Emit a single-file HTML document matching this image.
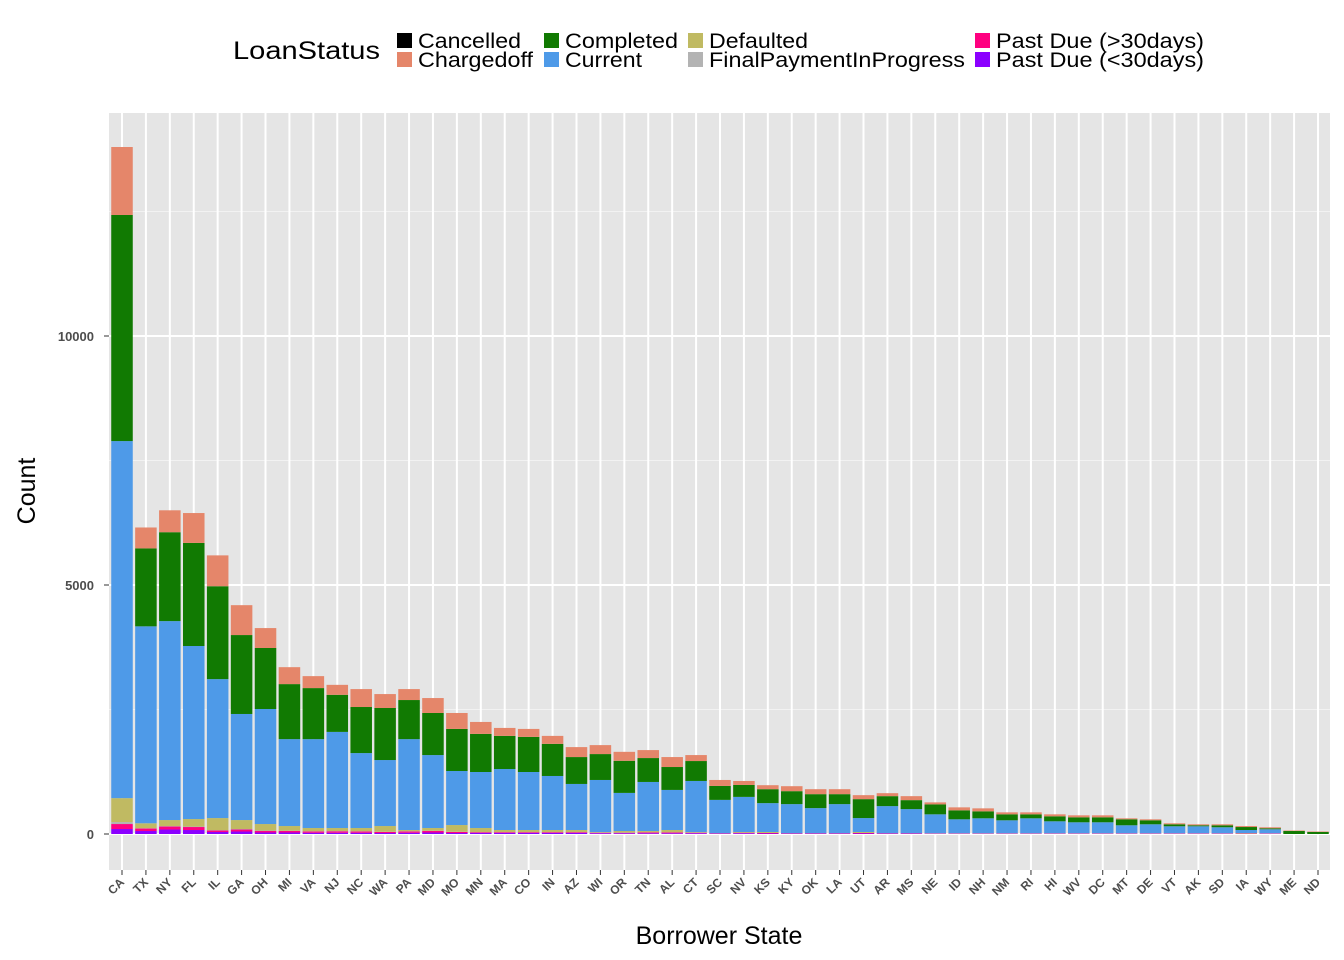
<!DOCTYPE html>
<html><head><meta charset="utf-8"><style>
body{margin:0;background:#fff;font-family:"Liberation Sans",Arial,sans-serif}
svg{display:block}
</style></head><body>
<svg id="chart" width="1344" height="960" xmlns="http://www.w3.org/2000/svg" font-family="Liberation Sans, Arial, sans-serif"></svg>
<script>
const states=["CA","TX","NY","FL","IL","GA","OH","MI","VA","NJ","NC","WA","PA","MD","MO","MN","MA","CO","IN","AZ","WI","OR","TN","AL","CT","SC","NV","KS","KY","OK","LA","UT","AR","MS","NE","ID","NH","NM","RI","HI","WV","DC","MT","DE","VT","AK","SD","IA","WY","ME","ND"];
const pastDueLt30=[100,60,90,80,40,50,30,30,25,25,25,20,25,30,20,20,20,20,20,20,15,15,15,15,15,10,15,10,10,10,10,10,10,10,5,5,5,5,5,5,5,5,5,5,5,5,5,5,5,0,0];
const pastDueGt30=[100,50,60,60,30,40,30,30,25,30,25,20,25,30,20,15,15,15,15,15,10,10,15,15,10,5,10,10,5,5,5,10,5,5,5,5,5,5,5,5,5,5,5,5,5,5,5,5,5,0,0];
const finalPayment=[40,5,10,10,10,10,10,5,5,5,5,5,5,5,5,5,5,5,5,5,5,5,5,5,5,0,0,0,0,0,0,0,0,0,0,0,0,0,0,0,0,0,0,0,0,0,0,0,0,0,0];
const defaulted=[480,100,120,150,240,180,130,95,65,60,65,115,25,55,135,80,40,40,40,40,10,30,25,45,10,5,15,20,5,5,5,20,5,5,5,5,5,5,5,5,5,5,5,5,5,5,5,10,5,0,0];
const current=[7170,3955,3995,3475,2790,2130,2310,1745,1785,1930,1505,1325,1825,1465,1085,1125,1225,1165,1085,925,1045,765,985,805,1025,665,705,580,580,500,580,280,540,480,380,280,300,260,300,240,220,220,160,180,140,140,120,60,80,0,0];
const completed=[4540,1565,1785,2070,1865,1585,1225,1105,1025,745,925,1045,785,845,845,765,665,705,645,540,520,645,480,460,400,280,240,280,260,280,200,380,200,180,200,180,140,120,80,100,100,100,120,80,40,20,40,60,20,60,40];
const chargedoff=[1365,420,440,600,620,600,400,340,240,200,360,280,220,300,320,240,160,160,160,200,180,180,160,200,120,120,80,80,100,100,100,80,60,80,40,60,60,40,40,40,40,40,20,20,20,20,20,20,20,10,10];
const cancelled=new Array(51).fill(0);
const yTicks=[0,5000,10000];
const series=[
 {n:"past-due-lt30",v:pastDueLt30,c:"#8B00FF"},
 {n:"past-due-gt30",v:pastDueGt30,c:"#FF0080"},
 {n:"final-payment",v:finalPayment,c:"#B3B3B3"},
 {n:"defaulted",v:defaulted,c:"#C0BA62"},
 {n:"current",v:current,c:"#4E9AE8"},
 {n:"completed",v:completed,c:"#117A02"},
 {n:"chargedoff",v:chargedoff,c:"#E5866A"},
 {n:"cancelled",v:cancelled,c:"#000000"}];
const NS="http://www.w3.org/2000/svg";
const svg=document.getElementById('chart');
const L=109,R=1330,T=113,B=870;
const y0=834,pxPer=249/5000;
const Y=v=>y0-v*pxPer;
const step=(1318-122)/50;
const X=i=>122+i*step;
function mk(tag,attrs,parent){const e=document.createElementNS(NS,tag);for(const k in attrs)e.setAttribute(k,attrs[k]);(parent||svg).appendChild(e);return e;}
const bg=mk('rect',{x:L,y:T,width:R-L,height:B-T,fill:"#E5E5E5"});


[2500,7500,12500].forEach(v=>{const g=mk('line',{x1:L,x2:R,y1:Y(v),y2:Y(v),stroke:"#F2F2F2","stroke-width":1});

});
yTicks.forEach(v=>{const g=mk('line',{x1:L,x2:R,y1:Y(v),y2:Y(v),stroke:"#fff","stroke-width":2});


mk('line',{x1:L-5,x2:L,y1:Y(v),y2:Y(v),stroke:"#333","stroke-width":1});
const t=mk('text',{x:L-15,y:Y(v)+5,"text-anchor":"end","font-size":13,"font-weight":"bold",fill:"#4D4D4D"});t.textContent=v;

});
states.forEach((s,i)=>{const g=mk('line',{x1:X(i),x2:X(i),y1:T,y2:B,stroke:"#fff","stroke-width":2});

});
const bw=step*0.9;
states.forEach((s,i)=>{let cum=0;series.forEach(se=>{const v=se.v[i];if(v>0){const r=mk('rect',{x:X(i)-bw/2,y:Y(cum+v),width:bw,height:v*pxPer,fill:se.c});

}cum+=v;});
mk('line',{x1:X(i),x2:X(i),y1:B,y2:B+5,stroke:"#333","stroke-width":1});
const ax=X(i)+3,ay=B+13;
const t=mk('text',{x:ax,y:ay,"text-anchor":"end","font-size":12,"font-weight":"bold",fill:"#4D4D4D",transform:`rotate(-45 ${ax} ${ay})`});t.textContent=s;

});
const xt=mk('text',{x:719,y:944,"text-anchor":"middle","font-size":25});xt.textContent="Borrower State";


const yt=mk('text',{x:35,y:491,"text-anchor":"middle","font-size":25,transform:"rotate(-90 35 491)"});yt.textContent="Count";


const lt=mk('text',{x:233,y:59,"font-size":25,textLength:147,lengthAdjust:"spacingAndGlyphs"});lt.textContent="LoanStatus";


const leg=[["Cancelled","#000000",397,33,103],["Chargedoff","#E5866A",397,52,115],["Completed","#117A02",544,33,113],["Current","#4E9AE8",544,52,77],["Defaulted","#C0BA62",688,33,99],["FinalPaymentInProgress","#B3B3B3",688,52,256],["Past Due (>30days)","#FF0080",975,33,208],["Past Due (<30days)","#8B00FF",975,52,208]];
leg.forEach(l=>{const k=mk('rect',{x:l[2],y:l[3],width:15,height:15,fill:l[1]});


const t=mk('text',{x:l[2]+21,y:l[3]+15,"font-size":21,textLength:l[4],lengthAdjust:"spacingAndGlyphs"});t.textContent=l[0];

});
</script>
</body></html>
